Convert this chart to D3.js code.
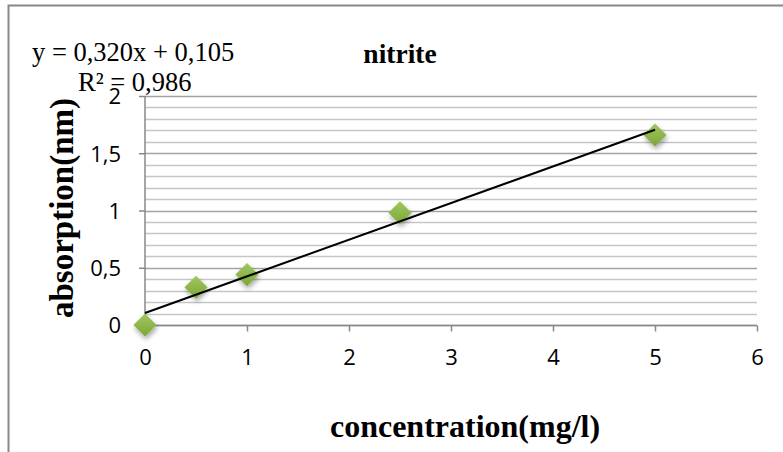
<!DOCTYPE html>
<html>
<head>
<meta charset="utf-8">
<script src="https://cdn.jsdelivr.net/npm/d3@7"></script>
<style>
  html, body { margin: 0; padding: 0; background: #fff; }
  svg { display: block; }
</style>
</head>
<body>
<svg id="chart" width="783" height="452"></svg>
<script>
// Calibration data: nitrite concentration vs absorption
const concentration = [0, 0.5, 1, 2.5, 5];
const absorption = [0, 0.33, 0.44, 0.98, 1.66];

// Linear trendline coefficients
const slope = 0.320;
const intercept = 0.105;
const rSquared = 0.986;

const xTicks = [0, 1, 2, 3, 4, 5, 6];
const yMajorTicks = [0, 0.5, 1, 1.5, 2];
const yGridTicks = d3.range(0, 21).map(i => i / 10);

const fmt = v => String(v).replace(".", ",");
const fmt3 = v => v.toFixed(3).replace(".", ",");

const svg = d3.select("#chart");
const W = 783, H = 452;
const serif = "'Liberation Serif', 'DejaVu Serif', serif";
const sans = "'Open Sans', 'Liberation Sans', sans-serif";

// Chart frame
svg.append("rect")
  .attr("x", 8.5).attr("y", 5.5)
  .attr("width", W + 20).attr("height", H + 20)
  .attr("fill", "#fff").attr("stroke", "#888").attr("stroke-width", 2);

const x = d3.scaleLinear().domain([0, 6]).range([145, 757]);
const y = d3.scaleLinear().domain([0, 2]).range([325, 96]);

// Horizontal gridlines (minor every 0.1, darker at each 0.5)
svg.append("g").selectAll("line")
  .data(yGridTicks)
  .enter().append("line")
  .attr("x1", x(0)).attr("x2", x(6))
  .attr("y1", d => Math.round(y(d)) + 0.5).attr("y2", d => Math.round(y(d)) + 0.5)
  .attr("stroke", d => yMajorTicks.includes(d) ? "#a3a3a3" : "#c6c6c6")
  .attr("stroke-width", 1.5);

// X axis
const xAxis = d3.axisBottom(x).tickValues(xTicks).tickSize(6).tickFormat(d => fmt(d));
const gx = svg.append("g").attr("transform", `translate(0,${Math.round(y(0)) + 0.5})`).call(xAxis);
gx.select(".domain").attr("stroke", "#888").attr("stroke-width", 1.5)
  .attr("d", `M${x(0)},0H${x(6)}`);
gx.selectAll(".tick line").attr("stroke", "#888").attr("stroke-width", 1.5);
gx.selectAll(".tick text")
  .attr("dy", 0).attr("y", 39.5)
  .attr("font-family", sans).attr("font-size", 22).attr("fill", "#000");

// Y axis
const yAxis = d3.axisLeft(y).tickValues(yMajorTicks).tickSize(6).tickFormat(d => fmt(d));
const gy = svg.append("g").attr("transform", `translate(${x(0)},0)`).call(yAxis);
gy.select(".domain").attr("stroke", "#888").attr("stroke-width", 1.5)
  .attr("d", `M0,${y(2)}V${y(0)}`);
gy.selectAll(".tick line").attr("stroke", "#888").attr("stroke-width", 1.5);
gy.selectAll(".tick text")
  .attr("x", -24).attr("dy", "0.36em")
  .attr("font-family", sans).attr("font-size", 22).attr("fill", "#000");

// Marker shadow filter and gradient
const defs = svg.append("defs");
const filt = defs.append("filter").attr("id", "shadow")
  .attr("x", "-50%").attr("y", "-50%").attr("width", "200%").attr("height", "200%");
filt.append("feDropShadow").attr("dx", 1).attr("dy", 3).attr("stdDeviation", 2.5)
  .attr("flood-color", "#000").attr("flood-opacity", 0.35);
const grad = defs.append("linearGradient").attr("id", "mk")
  .attr("x1", 0).attr("y1", 0).attr("x2", 0).attr("y2", 1);
grad.append("stop").attr("offset", "0%").attr("stop-color", "#a0c760");
grad.append("stop").attr("offset", "100%").attr("stop-color", "#7ca638");

// Data markers (diamonds)
const pts = concentration.map((c, i) => ({ c, a: absorption[i] }));
const diamond = d3.symbol().type(d3.symbolDiamond2).size(340);
svg.append("g").selectAll("path")
  .data(pts)
  .enter().append("path")
  .attr("d", diamond)
  .attr("transform", d => `translate(${x(d.c)},${y(d.a)})`)
  .attr("fill", "url(#mk)")
  .attr("filter", "url(#shadow)");

// Linear trendline
const trendX = [0, 5];
svg.append("line")
  .attr("x1", x(trendX[0])).attr("y1", y(intercept + slope * trendX[0]))
  .attr("x2", x(trendX[1])).attr("y2", y(intercept + slope * trendX[1]))
  .attr("stroke", "#000").attr("stroke-width", 2);

// Trendline equation
svg.append("text")
  .attr("x", 32).attr("y", 61)
  .attr("font-family", serif).attr("font-size", 26.5).attr("fill", "#000")
  .text(`y = ${fmt3(slope)}x + ${fmt3(intercept)}`);
svg.append("text")
  .attr("x", 78).attr("y", 91)
  .attr("font-family", serif).attr("font-size", 26.5).attr("fill", "#000")
  .text(`R² = ${fmt3(rSquared)}`);

// Title
svg.append("text")
  .attr("x", 400).attr("y", 63).attr("text-anchor", "middle")
  .attr("font-family", serif).attr("font-weight", "bold").attr("font-size", 27.5)
  .text("nitrite");

// Axis titles
svg.append("text")
  .attr("x", 465).attr("y", 437).attr("text-anchor", "middle")
  .attr("font-family", serif).attr("font-weight", "bold").attr("font-size", 32)
  .text("concentration(mg/l)");
svg.append("text")
  .attr("transform", "translate(73,208) rotate(-90)").attr("text-anchor", "middle")
  .attr("font-family", serif).attr("font-weight", "bold").attr("font-size", 33)
  .text("absorption(nm)");
</script>
</body>
</html>
